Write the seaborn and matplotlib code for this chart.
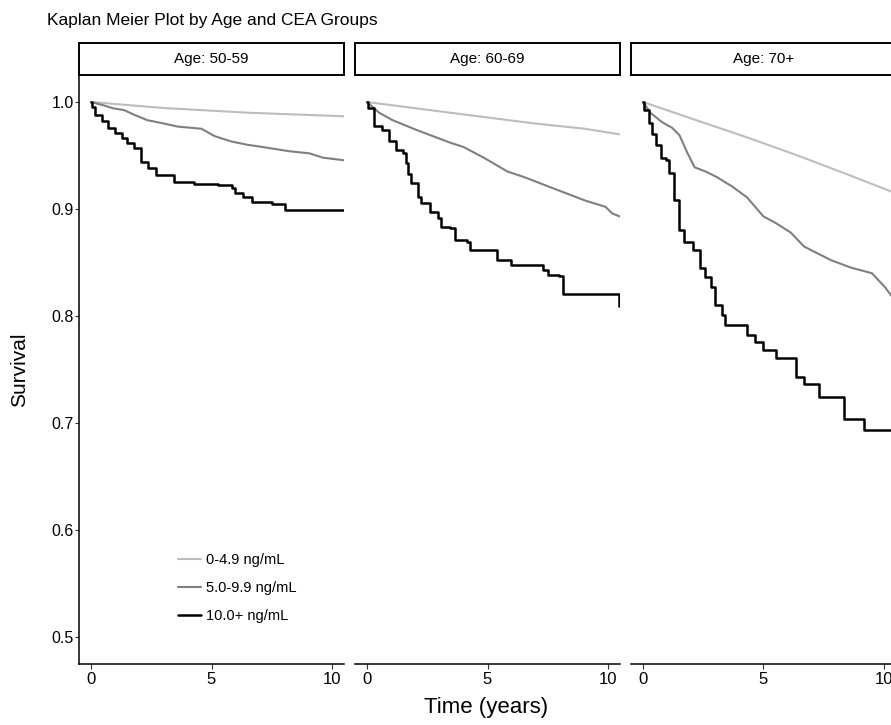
import matplotlib
matplotlib.use("Agg")
import matplotlib.pyplot as plt
import seaborn as sns
import pandas as pd

# ---------------- data ----------------
panels = ["Age: 50-59", "Age: 60-69", "Age: 70+"]
groups = ["0-4.9 ng/mL", "5.0-9.9 ng/mL", "10.0+ ng/mL"]

# Age 50-59
t_a1_low = [0.0, 3.0, 6.5, 10.7]
s_a1_low = [1.0, 0.9944, 0.990, 0.9865]
t_a1_mid = [0.0, 0.5, 0.93, 1.36, 1.8, 2.34, 3.0, 3.6, 4.58, 5.14, 5.84, 6.5, 7.1, 8.22, 9.07, 9.62, 10.7]
s_a1_mid = [1.0, 0.997, 0.994, 0.9925, 0.988, 0.983, 0.980, 0.977, 0.975, 0.968, 0.963, 0.960, 0.958, 0.954,
            0.952, 0.948, 0.945]
t_a1_high = [0.0, 0.05, 0.17, 0.45, 0.71, 1.0, 1.29, 1.5, 1.77, 2.06, 2.35, 2.69, 3.45, 4.29, 5.28, 5.84,
             5.98, 6.3, 6.68, 7.52, 8.07, 10.7]
s_a1_high = [1.0, 0.9956, 0.988, 0.982, 0.976, 0.971, 0.966, 0.962, 0.957, 0.944, 0.938, 0.932, 0.925, 0.923,
             0.922, 0.920, 0.915, 0.911, 0.907, 0.905, 0.899, 0.899]

# Age 60-69
t_a2_low = [0.0, 3.45, 6.93, 9.04, 10.7]
s_a2_low = [1.0, 0.990, 0.980, 0.975, 0.969]
t_a2_mid = [0.0, 0.5, 1.06, 2.04, 3.45, 4.0, 4.84, 5.83, 6.5, 7.65, 9.04, 9.9, 10.17, 10.7]
s_a2_mid = [1.0, 0.990, 0.983, 0.974, 0.962, 0.958, 0.948, 0.935, 0.930, 0.920, 0.908, 0.902, 0.896, 0.891]
t_a2_high = [0.0, 0.05, 0.29, 0.64, 0.92, 1.2, 1.48, 1.62, 1.72, 1.83, 2.11, 2.25, 2.6, 2.95, 3.09, 3.45, 3.66,
             4.15, 4.29, 5.34, 5.4, 5.97, 7.23, 7.3, 7.5, 7.98, 8.14, 10.45, 10.7]
s_a2_high = [1.0, 0.994, 0.978, 0.974, 0.964, 0.955, 0.952, 0.943, 0.933, 0.924, 0.911, 0.906, 0.897, 0.892,
             0.883, 0.882, 0.871, 0.869, 0.862, 0.862, 0.852, 0.848, 0.848, 0.843, 0.838, 0.837, 0.821, 0.809, 0.809]

# Age 70+
t_a3_low = [0.0, 2.21, 4.31, 6.42, 8.52, 10.34, 10.7]
s_a3_low = [1.0, 0.983, 0.967, 0.950, 0.932, 0.916, 0.913]
t_a3_mid = [0.0, 0.3, 0.8, 1.2, 1.51, 1.85, 2.14, 2.6, 3.05, 3.7, 4.31, 5.0, 5.5, 6.13, 6.68, 7.2, 7.82, 8.66,
            9.5, 10.04, 10.34, 10.7]
s_a3_mid = [1.0, 0.990, 0.981, 0.976, 0.969, 0.952, 0.939, 0.935, 0.930, 0.921, 0.911, 0.893, 0.887, 0.878,
            0.865, 0.859, 0.852, 0.845, 0.840, 0.827, 0.818, 0.812]
t_a3_high = [0.0, 0.05, 0.25, 0.38, 0.53, 0.74, 0.95, 1.09, 1.3, 1.51, 1.72, 2.06, 2.35, 2.56, 2.84, 2.98,
             3.26, 3.4, 4.24, 4.31, 4.66, 5.0, 5.5, 6.26, 6.34, 6.68, 7.3, 8.24, 8.36, 9.15, 9.16, 10.7]
s_a3_high = [1.0, 0.9925, 0.980, 0.970, 0.960, 0.948, 0.946, 0.934, 0.908, 0.880, 0.869, 0.862, 0.845, 0.836,
             0.827, 0.810, 0.801, 0.792, 0.792, 0.782, 0.776, 0.768, 0.761, 0.761, 0.743, 0.736, 0.724, 0.724,
             0.704, 0.704, 0.693, 0.693]

series = {
    panels[0]: [(t_a1_low, s_a1_low), (t_a1_mid, s_a1_mid), (t_a1_high, s_a1_high)],
    panels[1]: [(t_a2_low, s_a2_low), (t_a2_mid, s_a2_mid), (t_a2_high, s_a2_high)],
    panels[2]: [(t_a3_low, s_a3_low), (t_a3_mid, s_a3_mid), (t_a3_high, s_a3_high)],
}
y_ticks = [0.5, 0.6, 0.7, 0.8, 0.9, 1.0]
x_ticks = [0, 5, 10]

# ---------------- styling ----------------
sns.set_theme(style="white")
plt.rcParams["font.family"] = ["Liberation Sans", "DejaVu Sans"]
plt.rcParams["text.color"] = "black"
colors = {groups[0]: "#bdbdbd", groups[1]: "#7f7f7f", groups[2]: "#000000"}
widths = {groups[0]: 1.5, groups[1]: 1.5, groups[2]: 1.8}
steps = {groups[0]: "default", groups[1]: "default", groups[2]: "steps-post"}

W, H = 891, 725
fig = plt.figure(figsize=(W / 100, H / 100), dpi=100)
fig.patch.set_facecolor("white")

panel_left = [79, 355, 631]
panel_w = 265
panel_top, panel_bot = 75.25, 663.75
strip_top = 43

axes = []
for i, p in enumerate(panels):
    ax = fig.add_axes([panel_left[i] / W, 1 - panel_bot / H, panel_w / W, (panel_bot - panel_top) / H])
    for g, (t, s) in zip(groups, series[p]):
        df = pd.DataFrame({"time": t, "surv": s})
        sns.lineplot(data=df, x="time", y="surv", ax=ax, color=colors[g], linewidth=widths[g],
                     drawstyle=steps[g], estimator=None, sort=False, label=g if i == 0 else None,
                     legend=False)
    ax.set_xlim(-0.5, 10.5)
    ax.set_ylim(0.475, 1.025)
    ax.set_facecolor("white")
    ax.set_xticks(x_ticks)
    ax.set_xticklabels([str(v) for v in x_ticks], fontsize=12, color="black")
    ax.tick_params(axis="x", length=3.5, width=0.8, color="#333333", pad=2.5, bottom=True)
    for sp in ["top", "right"]:
        ax.spines[sp].set_visible(False)
    ax.spines["bottom"].set_color("black")
    ax.spines["bottom"].set_linewidth(1.1)
    if i == 0:
        ax.set_yticks(y_ticks)
        ax.set_yticklabels([f"{v:.1f}" for v in y_ticks], fontsize=11.5, color="black")
        ax.tick_params(axis="y", length=3.0, width=0.8, color="#333333", pad=0.8, left=True)
        ax.spines["left"].set_color("black")
        ax.spines["left"].set_linewidth(1.1)
        ax.set_ylabel("Survival", fontsize=15, color="black")
        ax.yaxis.set_label_coords((29 - 79) / panel_w, 0.5)
    else:
        ax.spines["left"].set_visible(False)
        ax.set_yticks([])
        ax.set_ylabel("")
    ax.set_xlabel("")
    axes.append(ax)

    # facet strip
    sax = fig.add_axes([panel_left[i] / W, 1 - panel_top / H, panel_w / W, (panel_top - strip_top) / H])
    sax.set_xticks([])
    sax.set_yticks([])
    sax.set_facecolor("white")
    for sp in sax.spines.values():
        sp.set_visible(True)
        sp.set_color("black")
        sp.set_linewidth(1.4)
    sax.text(0.5, 0.5, p, ha="center", va="center", fontsize=11, color="black", transform=sax.transAxes)

leg = axes[0].legend(loc="upper left",
                     bbox_to_anchor=((172 - 79) / panel_w, (panel_bot - 547) / (panel_bot - panel_top)),
                     frameon=False, fontsize=10.5, handlelength=1.6, handletextpad=0.35, labelspacing=0.98,
                     borderaxespad=0)

fig.text(486 / W, 1 - 708 / H, "Time (years)", ha="center", va="center", fontsize=16)
fig.text(47 / W, 1 - 20 / H, "Kaplan Meier Plot by Age and CEA Groups", ha="left", va="center", fontsize=12.5)

fig.savefig("out.png", dpi=100, facecolor="white")
